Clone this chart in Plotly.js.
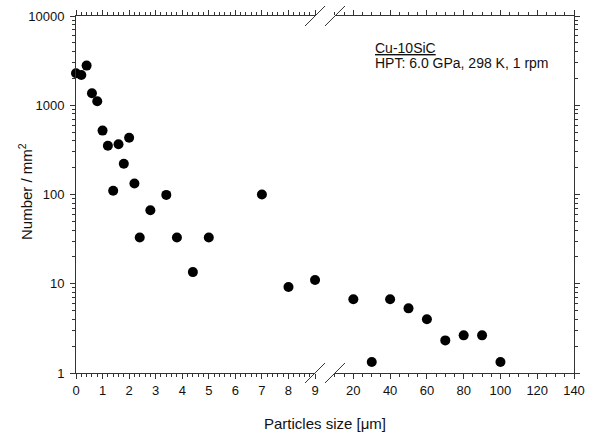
<!DOCTYPE html>
<html>
<head>
<meta charset="utf-8">
<script src="https://cdn.plot.ly/plotly-3.0.1.min.js"></script>
<style>html,body{margin:0;padding:0;background:#fff;}#chart{width:592px;height:439px;}</style>
</head>
<body>
<div id="chart"></div>
<script>
// Particle sizes (µm) and number densities (per mm^2)
var smallSize = [0, 0.2, 0.4, 0.6, 0.8, 1.0, 1.2, 1.4, 1.6, 1.8, 2.0, 2.2, 2.4, 2.8, 3.4, 3.8, 4.4, 5, 7, 8, 9];
var smallNum  = [2280, 2180, 2780, 1360, 1110, 520, 352, 110, 365, 221, 433, 133, 33, 66.5, 99, 33, 13.5, 33, 100, 9.2, 11];
var largeSize = [20, 30, 40, 50, 60, 70, 80, 90, 100];
var largeNum  = [6.7, 1.33, 6.7, 5.3, 4.0, 2.32, 2.64, 2.64, 1.33];
var yTickVals = [1, 10, 100, 1000, 10000];
var yTickText = ['1', '10', '100', '1000', '10000'];
var minorMantissa = [2, 3, 4, 5, 6, 7, 8, 9];
var minorDecades = [1, 10, 100, 1000];
var xTitle = 'Particles size [\u03bcm]';
var yTitle = 'Number / mm<sup>2</sup>';
var noteTitle = '<u>Cu-10SiC</u>';
var noteText = 'HPT: 6.0 GPa, 298 K, 1 rpm';

var yMinorVals = [];
minorDecades.forEach(function (d) { minorMantissa.forEach(function (m) { yMinorVals.push(m * d); }); });

var FONT = 'Liberation Sans, Arial, sans-serif';
var AX = '#333';
var marker = {color: '#000', size: 10, line: {width: 0}};

var traces = [
  {x: smallSize, y: smallNum, type: 'scatter', mode: 'markers', marker: marker, xaxis: 'x', yaxis: 'y', cliponaxis: false, hoverinfo: 'x+y'},
  {x: largeSize, y: largeNum, type: 'scatter', mode: 'markers', marker: marker, xaxis: 'x2', yaxis: 'y2', cliponaxis: false, hoverinfo: 'x+y'},
  {x: [], y: [], type: 'scatter', mode: 'markers', xaxis: 'x', yaxis: 'y3'},
  {x: [], y: [], type: 'scatter', mode: 'markers', xaxis: 'x2', yaxis: 'y4'}
];

var tickFont = {family: FONT, size: 13, color: '#111'};
var common = {showline: true, linecolor: AX, linewidth: 1, ticks: 'outside', ticklen: 5, tickcolor: AX, tickwidth: 1,
              showgrid: false, zeroline: false, tickfont: tickFont};
var minorAxis = {type: 'log', range: [0, 4], showline: false, ticks: 'outside', ticklen: 3, tickcolor: AX, tickwidth: 1,
              showgrid: false, zeroline: false, showticklabels: false, tickvals: yMinorVals};

var layout = {
  width: 592, height: 439,
  margin: {l: 76, r: 18, t: 16, b: 66},
  paper_bgcolor: '#fff', plot_bgcolor: '#fff',
  showlegend: false,
  font: {family: FONT, color: '#111'},
  xaxis: Object.assign({}, common, {domain: [0, 0.48], range: [0, 9], anchor: 'y', dtick: 1, tick0: 0, mirror: 'ticks',
          minor: {dtick: 0.2, tick0: 0, ticks: 'outside', ticklen: 3, tickcolor: AX, tickwidth: 1}}),
  xaxis2: Object.assign({}, common, {domain: [0.52, 1], range: [10, 140], anchor: 'y2', dtick: 20, tick0: 0, mirror: 'ticks',
          minor: {dtick: 5, tick0: 0, ticks: 'outside', ticklen: 3, tickcolor: AX, tickwidth: 1}}),
  yaxis: Object.assign({}, common, {type: 'log', range: [0, 4], anchor: 'x', side: 'left', tickvals: yTickVals, ticktext: yTickText,
          ticklabelstandoff: 3}),
  yaxis2: Object.assign({}, common, {type: 'log', range: [0, 4], anchor: 'x2', side: 'right', tickvals: yTickVals,
          showticklabels: false}),
  yaxis3: Object.assign({}, minorAxis, {overlaying: 'y', anchor: 'x', side: 'left'}),
  yaxis4: Object.assign({}, minorAxis, {overlaying: 'y2', anchor: 'x2', side: 'right'}),
  annotations: [
    {xref: 'paper', yref: 'paper', x: 0.5, y: 0, yshift: -40, xanchor: 'center', yanchor: 'top', showarrow: false,
     text: xTitle, font: {family: FONT, size: 15, color: '#111'}},
    {xref: 'paper', yref: 'paper', x: 0, xshift: -51, y: 0.507, xanchor: 'center', yanchor: 'middle', textangle: -90, showarrow: false,
     text: yTitle, font: {family: FONT, size: 15, color: '#111'}},
    {xref: 'paper', yref: 'paper', x: 0.597, y: 0.910, xanchor: 'left', yanchor: 'middle', align: 'left', showarrow: false,
     text: noteTitle, font: {family: FONT, size: 14, color: '#111'}},
    {xref: 'paper', yref: 'paper', x: 0.597, y: 0.868, xanchor: 'left', yanchor: 'middle', align: 'left', showarrow: false,
     text: noteText, font: {family: FONT, size: 14, color: '#111'}}
  ],
  shapes: []
};

// axis-break slashes at the ends of the two x segments (top and bottom)
[0.48, 0.52].forEach(function (xp) {
  [0, 1].forEach(function (yp) {
    layout.shapes.push({type: 'line', xref: 'paper', yref: 'paper', xsizemode: 'pixel', ysizemode: 'pixel',
      xanchor: xp, yanchor: yp, x0: -10, x1: 10, y0: -10, y1: 10, line: {color: AX, width: 1}});
  });
});

Plotly.newPlot('chart', traces, layout, {staticPlot: true});
</script>
</body>
</html>
